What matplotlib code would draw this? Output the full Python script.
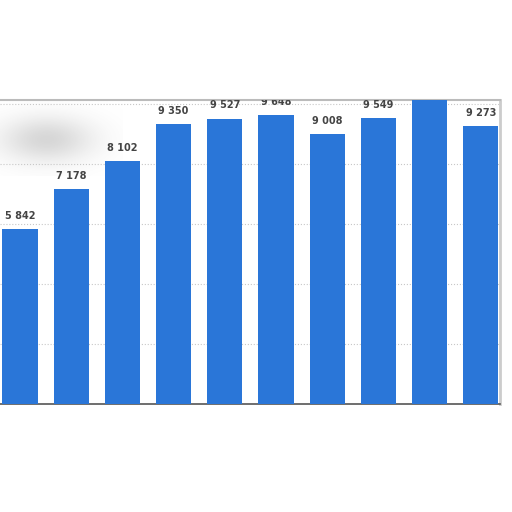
import numpy as np
import matplotlib.pyplot as plt

# bar values (9th label is hidden behind the crop edge)
values = [5842, 7178, 8102, 9350, 9527, 9648, 9008, 9549, 10400, 9273]
labels = ['5 842', '7 178', '8 102', '9 350', '9 527', '9 648', '9 008', '9 549', '10 400', '9 273']
show_label = [True, True, True, True, True, True, True, True, False, True]

bar_color = '#2a76d8'

fig = plt.figure(figsize=(5.12, 5.12), dpi=100)
ax = fig.add_axes([0, 108 / 512, 500 / 512, 304 / 512])

x = np.arange(len(values))
ax.bar(x, values, width=0.69, color=bar_color, zorder=3)

for xi, v, lab, show in zip(x, values, labels, show_label):
    if show:
        ax.text(xi, v + 280, lab, ha='center', va='bottom', fontsize=7,
                fontweight='bold', color='#444444', zorder=4, clip_on=True)

ax.set_xlim(-20 / 51.2, 480 / 51.2)
ax.set_ylim(0, 10150)
ax.set_yticks([2000, 4000, 6000, 8000, 10000])
ax.yaxis.grid(True, ls=':', color='#c8c8c8', lw=0.8, zorder=0)
ax.set_xticks([])
ax.tick_params(left=False, labelleft=False)

# blurred grey patch in the top left corner (transparent at its edges)
yy, xx = np.mgrid[0:40, 0:80]
soft = np.exp(-((xx - 30) / 30.0) ** 2 - ((yy - 20) / 12.0) ** 2)
rgba = np.zeros((40, 80, 4))
rgba[..., :3] = 0.55
rgba[..., 3] = soft * 0.35
ax.imshow(rgba, aspect='auto', extent=(-0.39, 2.0, 7600, 10100),
          zorder=1, interpolation='bicubic')

ax.spines['left'].set_visible(False)
ax.spines['top'].set_color('#bbbbbb')
ax.spines['top'].set_linewidth(1.5)
ax.spines['right'].set_color('#cccccc')
ax.spines['right'].set_linewidth(2)
ax.spines['bottom'].set_color('#555555')
ax.spines['bottom'].set_linewidth(1.2)

plt.savefig('out.png', dpi=100)
